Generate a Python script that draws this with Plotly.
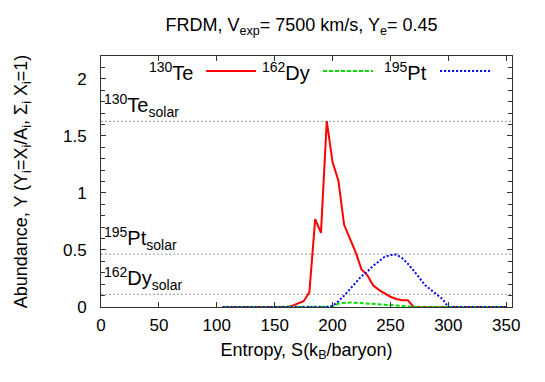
import plotly.graph_objects as go

# ---- data ----
entropy = [105, 110, 115, 120, 125, 130, 135, 140, 145, 150, 155, 160, 165, 170, 175,
           180, 185, 190, 195, 200, 205, 210, 215, 220, 225, 230, 235, 240, 245, 250,
           255, 260, 265, 270, 275, 280, 285, 290, 295, 300, 305, 310, 315, 320, 325,
           330, 335, 340, 345, 350]

te130 = [0, 0, 0, 0, 0, 0, 0, 0, 0, 0, 0, 0, 0.01, 0.03, 0.05,
         0.13, 0.77, 0.65, 1.63, 1.27, 1.11, 0.72, 0.60, 0.48, 0.33, 0.28, 0.19, 0.15, 0.12, 0.09,
         0.07, 0.06, 0.06, 0, 0, 0, 0, 0, 0, 0, 0, 0, 0, 0, 0,
         0, 0, 0, 0, 0]

dy162 = [0, 0, 0, 0, 0, 0, 0, 0, 0, 0, 0, 0, 0, 0, 0,
         0, 0, 0, 0, 0.002, 0.03, 0.038, 0.04, 0.037, 0.034, 0.032, 0.03, 0.028, 0.025, 0.02,
         0.015, 0.01, 0.005, 0, 0, 0, 0, 0, 0, 0, 0, 0, 0, 0, 0,
         0, 0, 0, 0, 0]

pt195 = [0, 0, 0, 0, 0, 0, 0, 0, 0, 0, 0, 0, 0, 0, 0,
         0, 0, 0, 0, 0.01, 0.05, 0.10, 0.16, 0.22, 0.27, 0.31, 0.36, 0.40, 0.44, 0.455,
         0.46, 0.43, 0.38, 0.32, 0.25, 0.19, 0.15, 0.11, 0.07, 0, 0, 0, 0, 0, 0,
         0, 0, 0, 0, 0]

solar_names = ["<sup>130</sup>Te<sub>solar</sub>", "<sup>195</sup>Pt<sub>solar</sub>", "<sup>162</sup>Dy<sub>solar</sub>"]
solar_values = [1.627, 0.463, 0.111]

series_names = ["<sup>130</sup>Te", "<sup>162</sup>Dy", "<sup>195</sup>Pt"]
series_values = [te130, dy162, pt195]
series_colors = ["#ff0000", "#00dd00", "#0000ff"]
series_dash = ["solid", "4px,2px", "2px,2px"]

x_ticks = [0, 50, 100, 150, 200, 250, 300, 350]
y_ticks = [0, 0.5, 1, 1.5, 2]
y_tick_text = ["0", "0.5", "1", "1.5", "2"]

FONT = "Liberation Sans, Arial, sans-serif"

fig = go.Figure()

for name, vals, col, dash in zip(series_names, series_values, series_colors, series_dash):
    fig.add_trace(go.Scatter(x=entropy, y=vals, mode="lines", name=name,
                             line=dict(color=col, width=2, dash=dash),
                             showlegend=False))

# solar reference lines and labels
for lab, val in zip(solar_names, solar_values):
    fig.add_hline(y=val, line=dict(color="#999999", width=1, dash="2px,2px"), layer="below")
    fig.add_annotation(x=0, xref="paper", xanchor="left", xshift=1,
                       y=val, yref="y", yanchor="bottom", yshift=-1,
                       text=lab, showarrow=False,
                       font=dict(family=FONT, size=20, color="black"))

# custom key (gnuplot style: text then sample)
key_text_x = [0.228, 0.513, 0.798]
key_line_x = [(0.256, 0.377), (0.540, 0.662), (0.825, 0.947)]
key_y = 0.94
for name, col, dash, tx, (l0, l1) in zip(series_names, series_colors, series_dash, key_text_x, key_line_x):
    fig.add_annotation(x=tx, xref="paper", xanchor="right", y=key_y, yref="paper",
                       yanchor="middle", text=name, showarrow=False,
                       font=dict(family=FONT, size=20, color="black"))
    fig.add_shape(type="line", xref="paper", yref="paper", x0=l0, x1=l1, y0=key_y, y1=key_y,
                  line=dict(color=col, width=2, dash=dash))

fig.update_layout(
    width=545, height=382,
    margin=dict(l=89, r=41, t=48, b=83),
    paper_bgcolor="white", plot_bgcolor="white",
    font=dict(family=FONT, size=17, color="black"),
    title=dict(text="FRDM, V<sub>exp</sub>= 7500 km/s, Y<sub>e</sub>= 0.45",
               x=0.5385, xanchor="center", y=0.955, yanchor="middle",
               font=dict(family=FONT, size=18, color="black")),
)

fig.update_xaxes(range=[0, 355], tickvals=x_ticks, ticks="inside", ticklen=5,
                 tickcolor="#333333", showline=True, linecolor="#333333", linewidth=1,
                 mirror="allticks", showgrid=False, zeroline=False,
                 ticklabelstandoff=3,
                 title=dict(text="Entropy, S(k<sub>B</sub>/baryon)", standoff=8,
                            font=dict(family=FONT, size=18)))
fig.update_yaxes(range=[0, 2.2], tickvals=y_ticks, ticktext=y_tick_text, ticks="inside", ticklen=5,
                 tickcolor="#333333", showline=True, linecolor="#333333", linewidth=1,
                 mirror="allticks", showgrid=False, zeroline=False,
                 ticklabelstandoff=10,
                 minor=dict(dtick=0.1, ticks="inside", ticklen=4, tickcolor="#333333"),
                 title=dict(text="Abundance, Y (Y<sub>i</sub>=X<sub>i</sub>/A<sub>i</sub>, \u03a3<sub>i</sub> X<sub>i</sub>=1)",
                            standoff=30, font=dict(family=FONT, size=18)))

fig.write_html("out.html")
